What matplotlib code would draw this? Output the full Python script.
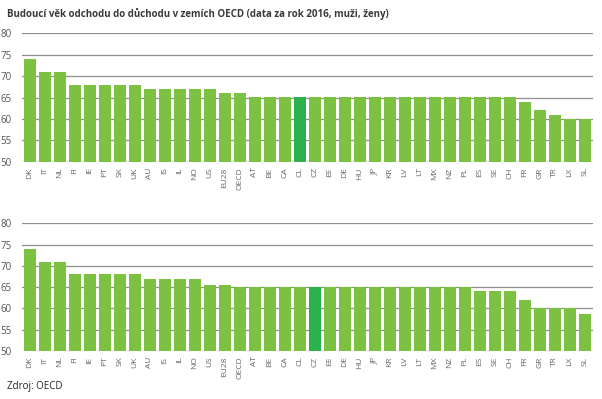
from matplotlib import pyplot as plt
import numpy as np

plt.rcParams['font.family'] = ['Open Sans', 'DejaVu Sans']

# Data
countries = ["DK", "IT", "NL", "FI", "IE", "PT", "SK", "UK", "AU", "IS", "IL", "NO", "US",
             "EU28", "OECD", "AT", "BE", "CA", "CL", "CZ", "EE", "DE", "HU", "JP", "KR",
             "LV", "LT", "MX", "NZ", "PL", "ES", "SE", "CH", "FR", "GR", "TR", "LX", "SL"]

men = [74, 71, 71, 68, 68, 68, 68, 68, 67, 67, 67, 67, 67,
       66, 66, 65, 65, 65, 65, 65, 65, 65, 65, 65, 65,
       65, 65, 65, 65, 65, 65, 65, 65, 64, 62, 61, 60, 60]

women = [74, 71, 71, 68, 68, 68, 68, 68, 67, 67, 67, 67, 65.5,
         65.5, 65, 65, 65, 65, 65, 65, 65, 65, 65, 65, 65,
         65, 65, 65, 65, 65, 64, 64, 64, 62, 60, 60, 60, 58.8]

highlight_men = "CL"
highlight_women = "CZ"

yticks = [50, 55, 60, 65, 70, 75, 80]

GREEN = "#7dc142"
DARK_GREEN = "#2bb24c"

W, H = 602, 399
fig = plt.figure(figsize=(W / 100, H / 100), dpi=100)

def draw(ax, values, highlight):
    x = np.arange(len(countries))
    colors = [DARK_GREEN if c == highlight else GREEN for c in countries]
    ax.bar(x, np.array(values) - 50, bottom=50, width=0.8, color=colors, zorder=2)
    ax.set_ylim(50, 80)
    ax.set_xlim(-0.55, len(countries) - 0.45)
    ax.set_yticks(yticks)
    ax.set_xticks(x)
    ax.set_xticklabels(countries, rotation=90, fontsize=6, color="#666666")
    ax.tick_params(axis="y", labelsize=7, colors="#555555", length=0, pad=7)
    ax.tick_params(axis="x", length=0, pad=4)
    ax.grid(axis="y", color="#8f8f8f", linewidth=0.9, zorder=3)
    for s in ax.spines.values():
        s.set_visible(False)

# axes positions in pixels: left 21.5, right 593
left = 21.5 / W
width = (593 - 21.5) / W

ax1 = fig.add_axes([left, 1 - 161.7 / H, width, (161.7 - 33.3) / H])
draw(ax1, men, highlight_men)

ax2 = fig.add_axes([left, 1 - 351 / H, width, (351 - 223.3) / H])
draw(ax2, women, highlight_women)

fig.text(7 / W, 1 - 14 / H, "Budoucí věk odchodu do důchodu v zemích OECD (data za rok 2016, muži, ženy)",
         fontsize=7, fontweight="bold", color="#3a3a3a", va="center", ha="left")
fig.text(7 / W, 1 - 386 / H, "Zdroj: OECD", fontsize=7, color="#222222", va="center", ha="left")

fig.savefig("out.png", dpi=100)
